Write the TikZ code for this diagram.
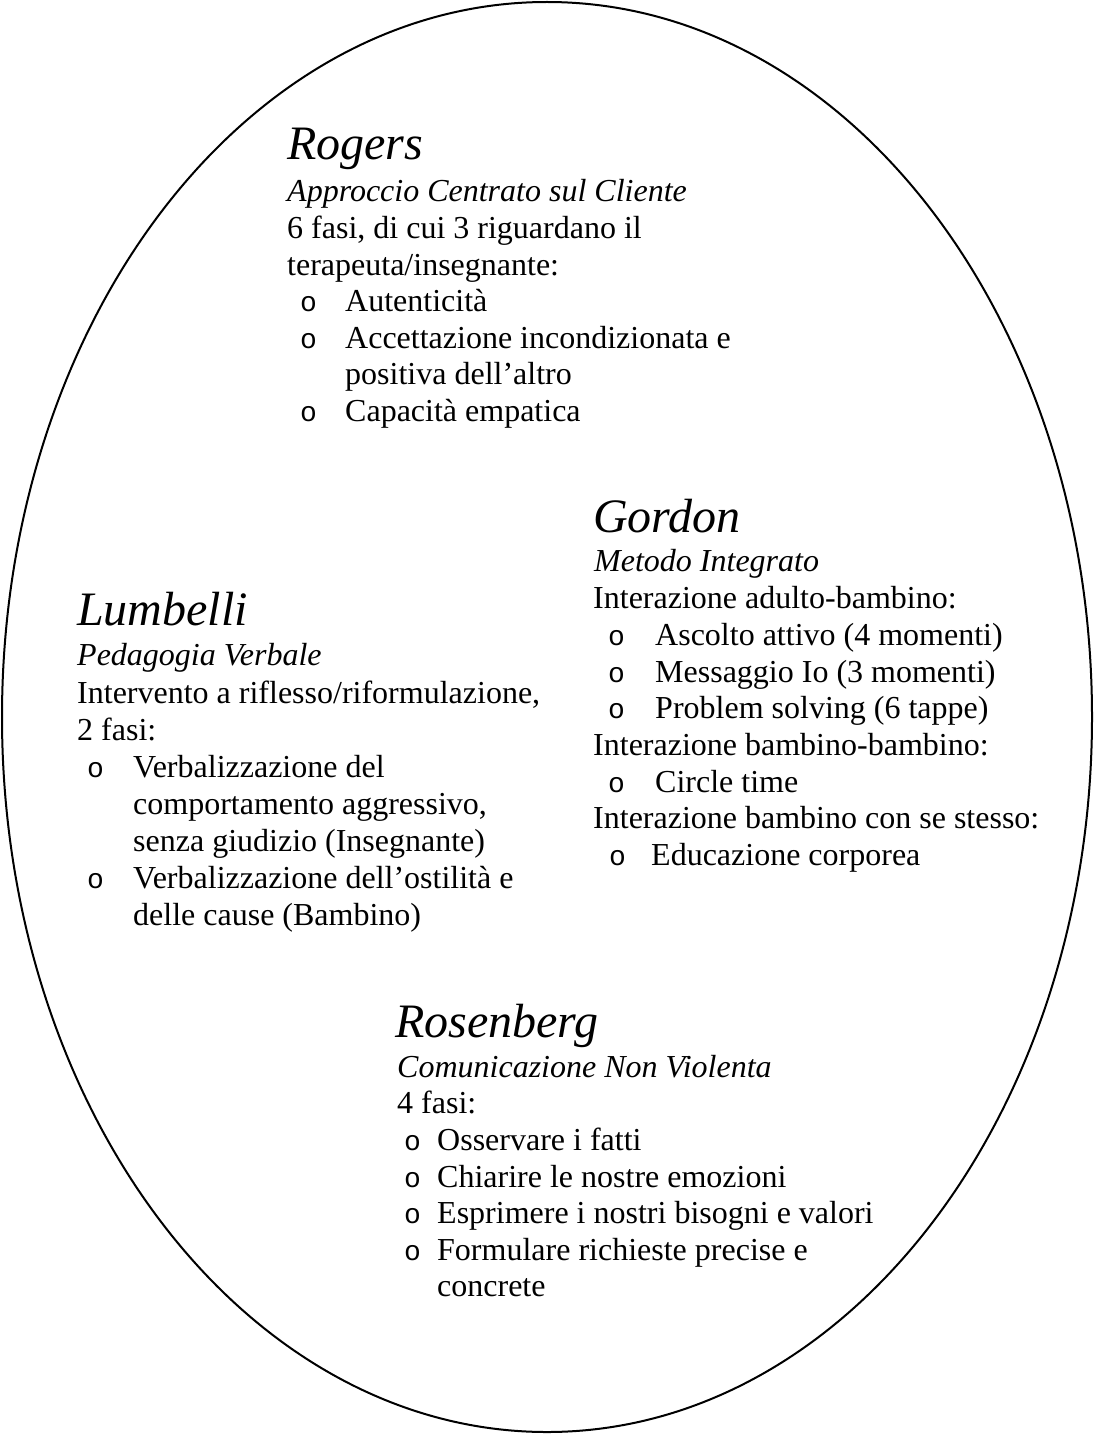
\documentclass[tikz,border=0pt]{standalone}
\usepackage{fontspec}
\setmainfont{Liberation Serif}
\newfontfamily\markfont{Liberation Mono}

\newcommand\titlefont{\fontsize{48}{56}\selectfont\itshape}
\newcommand\subfont{\fontsize{32}{37}\selectfont\itshape}
\newcommand\bodyfont{\fontsize{32}{37}\selectfont}
% hanging bullet: the marker sits #1 before the item text
\newcommand\itemmark[1]{\llap{\makebox[#1][l]{\markfont\fontsize{28}{30}\selectfont o}}}

\begin{document}
\begin{tikzpicture}[x=1pt, y=-1pt,
  heading/.style={anchor=base west, inner sep=0pt, font=\titlefont},
  subtitle/.style={anchor=base west, inner sep=0pt, font=\subfont},
  textline/.style={anchor=base west, inner sep=0pt, font=\bodyfont},
  outline/.style={line width=2pt, black}]
\useasboundingbox (0,0) rectangle (1094,1434);

\draw[outline] (547,717) ellipse [x radius=545pt, y radius=715pt];

% Rogers
\node[heading]  (rog-t)  at (287,160) {Rogers};
\node[subtitle] (rog-s)  at (287,201) {Approccio Centrato sul Cliente};
\node[textline] (rog-1)  at (287,238) {6 fasi, di cui 3 riguardano il};
\node[textline] (rog-2)  at (287,275) {terapeuta/insegnante:};
\node[textline] (rog-3)  at (345,311) {\itemmark{45pt}Autenticità};
\node[textline] (rog-4)  at (345,348) {\itemmark{45pt}Accettazione incondizionata e};
\node[textline] (rog-5)  at (345,384) {positiva dell’altro};
\node[textline] (rog-6)  at (345,421) {\itemmark{45pt}Capacità empatica};

% Gordon
\node[heading]  (gor-t)  at (593,532) {Gordon};
\node[subtitle] (gor-s)  at (594,571) {Metodo Integrato};
\node[textline] (gor-1)  at (593,608) {Interazione adulto-bambino:};
\node[textline] (gor-2)  at (655,645) {\itemmark{47pt}Ascolto attivo (4 momenti)};
\node[textline] (gor-3)  at (655,682) {\itemmark{47pt}Messaggio Io (3 momenti)};
\node[textline] (gor-4)  at (655,718) {\itemmark{47pt}Problem solving (6 tappe)};
\node[textline] (gor-5)  at (593,755) {Interazione bambino-bambino:};
\node[textline] (gor-6)  at (655,792) {\itemmark{47pt}Circle time};
\node[textline] (gor-7)  at (593,828) {Interazione bambino con se stesso:};
\node[textline] (gor-8)  at (651,865) {\itemmark{42pt}Educazione corporea};

% Lumbelli
\node[heading]  (lum-t)  at (77,625) {Lumbelli};
\node[subtitle] (lum-s)  at (77,665) {Pedagogia Verbale};
\node[textline] (lum-1)  at (77,703) {Intervento a riflesso/riformulazione,};
\node[textline] (lum-2)  at (77,740) {2 fasi:};
\node[textline] (lum-3)  at (133,777) {\itemmark{46pt}Verbalizzazione del};
\node[textline] (lum-4)  at (133,814) {comportamento aggressivo,};
\node[textline] (lum-5)  at (133,851) {senza giudizio (Insegnante)};
\node[textline] (lum-6)  at (133,888) {\itemmark{46pt}Verbalizzazione dell’ostilità e};
\node[textline] (lum-7)  at (133,925) {delle cause (Bambino)};

% Rosenberg
\node[heading]  (ros-t)  at (395,1037) {Rosenberg};
\node[subtitle] (ros-s)  at (397,1077) {Comunicazione Non Violenta};
\node[textline] (ros-1)  at (397,1113) {4 fasi:};
\node[textline] (ros-2)  at (437,1150) {\itemmark{33pt}Osservare i fatti};
\node[textline] (ros-3)  at (437,1187) {\itemmark{33pt}Chiarire le nostre emozioni};
\node[textline] (ros-4)  at (437,1223) {\itemmark{33pt}Esprimere i nostri bisogni e valori};
\node[textline] (ros-5)  at (437,1260) {\itemmark{33pt}Formulare richieste precise e};
\node[textline] (ros-6)  at (437,1296) {concrete};
\end{tikzpicture}
\end{document}
